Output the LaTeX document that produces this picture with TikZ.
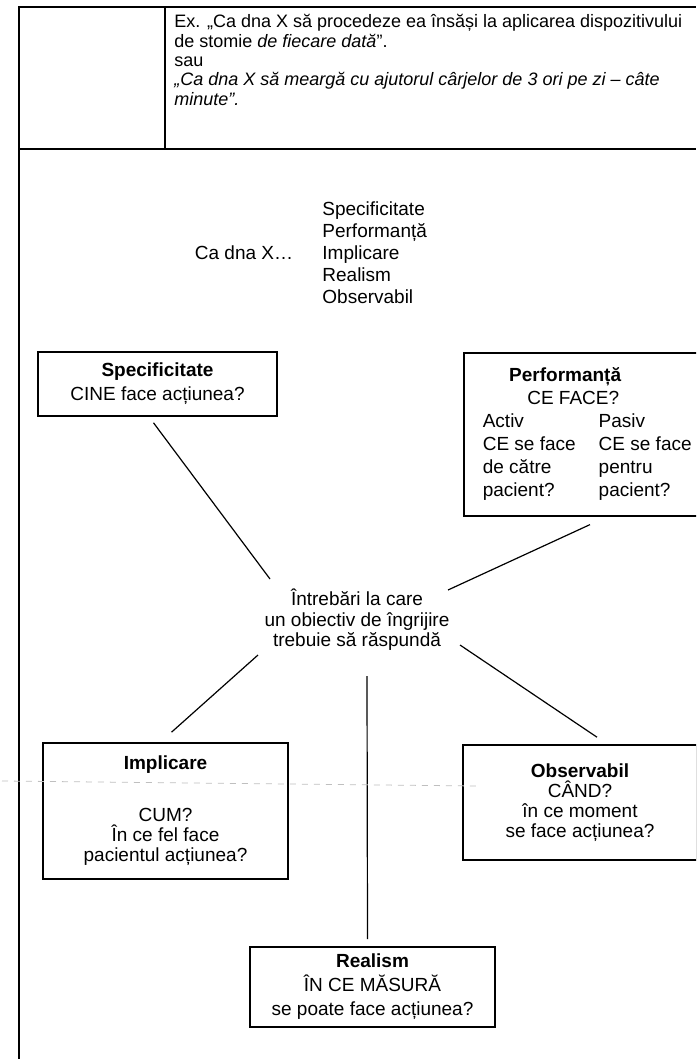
\documentclass[tikz,border=0pt]{standalone}
\usepackage{fontspec}
\setmainfont{Liberation Sans}
\newcommand\tightlines{\fontsize{9}{9.7}\selectfont\setlength{\lineskiplimit}{-5pt}}

\begin{document}
\begin{tikzpicture}[x=0.5pt, y=-0.5pt, font=\fontsize{9.5}{11.5}\selectfont,
	box/.style = {draw, line width=0.8pt, align=center, inner sep=0pt},
	link/.style = {line width=0.6pt},
	rule/.style = {line width=0.8pt}]
			\path[use as bounding box, clip] (0,0) rectangle (696,1059);
			% table at the top
			\draw[rule] (19,1059) -- (19,7) -- (696,7);
			\draw[rule] (19,149) -- (696,149);
			\draw[rule] (165,7) -- (165,149);
			\node[anchor=north west, inner sep=0pt, align=left, font=\tightlines] (ex) at (174,14) {Ex. „Ca dna X să procedeze ea însăși la aplicarea dispozitivului\\ de stomie \textit{de fiecare dată}”.\\ sau\\ \textit{„Ca dna X să meargă cu ajutorul cârjelor de 3 ori pe zi – câte}\\ \textit{minute”.}};
			% the five words
			\node (cadna) at (244,253) {Ca dna X\dots};
			\node[anchor=west, inner sep=0pt, align=left, font=\fontsize{9.5}{11}\selectfont] (crit) at (322,253) {Specificitate\\ Performanță\\ Implicare\\ Realism\\ Observabil};
			% boxes
			\node[box, font=\fontsize{9.5}{12}\selectfont, minimum width=119.5pt, minimum height=32pt] (spec) at (157.5,384) {\textbf{Specificitate}\\ CINE face acțiunea?};
			\node[box, anchor=north west, inner xsep=9.5pt, minimum height=81.5pt] (perf) at (463,352) {\begin{tabular}{@{}l@{\hspace{11.5pt}}l@{}}
				\multicolumn{2}{c@{\hspace{28pt}}}{\textbf{Performanță}}\\
				\multicolumn{2}{c@{\hspace{20pt}}}{CE FACE?}\\
				Activ & Pasiv\\
				CE se face & CE se face\\
				de către & pentru\\
				pacient? & pacient?
			\end{tabular}\hspace*{25pt}};
			\node[align=center, inner sep=0pt, font=\fontsize{9.5}{10.3}\selectfont] (q) at (357,620) {Întrebări la care\\ un obiectiv de îngrijire\\ trebuie să răspundă};
			\node[box, font=\fontsize{9.5}{10}\selectfont, minimum width=122.5pt, minimum height=68pt] (impl) at (165.5,811) {\textbf{Implicare}\\[16pt] CUM?\\ În ce fel face\\ pacientul acțiunea?};
			\node[box, font=\fontsize{9.5}{10}\selectfont, minimum width=117pt, minimum height=57.5pt] (obs) at (580,802.5) {\textbf{Observabil}\\ CÂND?\\ în ce moment\\ se face acțiunea?};
			\node[box, font=\fontsize{9.5}{12}\selectfont, minimum width=122.5pt, minimum height=40pt] (real) at (372.5,987) {\textbf{Realism}\\ ÎN CE MĂSURĂ\\ se poate face acțiunea?};
			% connectors
			\draw[link] ([shift={(-4,6)}]spec.south) -- ([shift={(-87,-41)}]q.center);
			\draw[link] ([shift={(127,8)}]perf.south west) -- ([shift={(91,-30)}]q.center);
			\draw[link] ([shift={(-99,35)}]q.center) -- ([shift={(6,-10)}]impl.north);
			\draw[link] ([shift={(103,25)}]q.center) -- ([shift={(17,-7)}]obs.north);
			\draw[link] ([shift={(10,56)}]q.center) -- ([shift={(-5,-7)}]real.north);
			\draw[gray!50, dashed, line width=0.4pt] (2,781) -- (478,786);
\end{tikzpicture}
\end{document}
